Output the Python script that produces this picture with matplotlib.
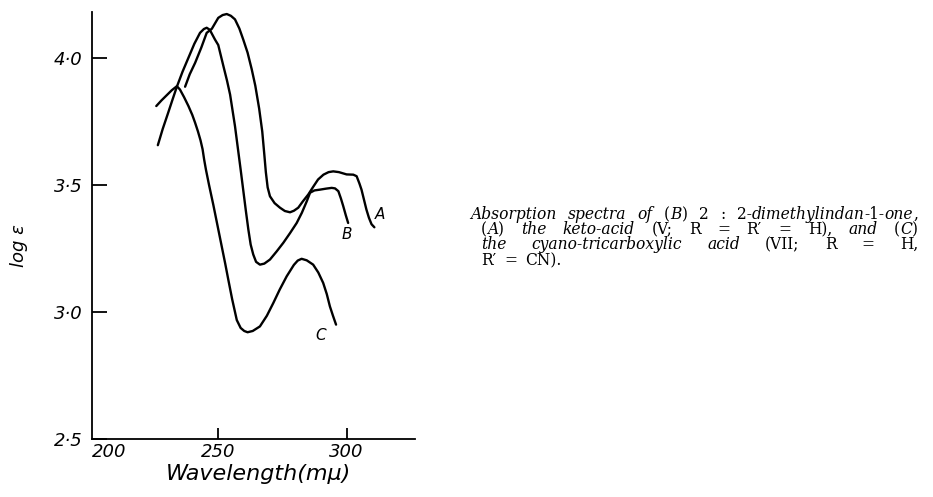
import numpy as np
import matplotlib
matplotlib.use("Agg")
import matplotlib.pyplot as plt

plt.rcParams['font.family'] = 'DejaVu Sans'
plt.rcParams['axes.linewidth'] = 1.3

# curve A: keto-acid
wl_A = [237.2, 239.0, 241.1, 243.5, 245.6, 247.6, 250.1, 251.8, 253.4, 255.0,
        256.6, 258.3, 259.8, 261.5, 263.1, 264.5, 266.0, 267.2, 268.0, 268.6,
        269.3, 270.2, 272.0, 274.1, 276.0, 278.0, 279.5, 281.2, 283.0, 285.1,
        287.0, 288.9, 291.0, 293.0, 294.8, 297.0, 300.0, 302.6, 303.9, 305.0,
        305.8, 306.8, 307.7, 308.7, 309.7, 310.8]
le_A = [3.886, 3.935, 3.98, 4.04, 4.098, 4.114, 4.157, 4.168, 4.172, 4.165,
        4.151, 4.115, 4.072, 4.02, 3.955, 3.89, 3.80, 3.71, 3.62, 3.55,
        3.49, 3.455, 3.428, 3.41, 3.397, 3.392, 3.398, 3.41, 3.435, 3.462,
        3.492, 3.521, 3.540, 3.550, 3.553, 3.550, 3.541, 3.540, 3.534, 3.505,
        3.481, 3.44, 3.403, 3.37, 3.345, 3.333]

# curve B: 2:2-dimethylindan-1-one
wl_B = [226.6, 228.5, 230.5, 232.3, 234.0, 236.2, 238.5, 240.8, 243.0, 244.5,
        245.6, 246.8, 248.8, 250.1, 252.1, 253.5, 254.7, 256.6, 257.9, 258.8,
        259.8, 260.8, 261.8, 262.7, 263.7, 264.8, 266.3, 268.0, 270.2, 272.8,
        275.4, 278.0, 280.6, 282.6, 284.5, 285.8, 287.5, 289.6, 292.0, 294.2,
        295.5, 296.8, 297.8, 298.7, 299.7, 300.6]
le_B = [3.656, 3.72, 3.78, 3.835, 3.886, 3.945, 4.0, 4.055, 4.098, 4.113,
        4.118, 4.11, 4.072, 4.05, 3.967, 3.91, 3.855, 3.731, 3.63, 3.56,
        3.48, 3.40, 3.324, 3.265, 3.226, 3.197, 3.186, 3.19, 3.206, 3.238,
        3.272, 3.31, 3.35, 3.39, 3.435, 3.469, 3.478, 3.481, 3.485, 3.488,
        3.486, 3.475, 3.446, 3.416, 3.38, 3.35]

# curve C: cyano-tricarboxylic acid
wl_C = [226.0, 228.0, 230.0, 232.0, 234.0, 235.2, 236.8, 238.5, 240.0, 241.1,
        242.2, 243.2, 244.0, 244.6, 245.3, 246.5, 248.2, 249.8, 251.4, 252.8,
        254.0, 255.5, 257.3, 258.8, 260.2, 261.5, 263.5, 266.3, 269.0, 271.5,
        274.0, 276.7, 279.5, 281.0, 282.5, 284.5, 287.0, 289.0, 290.9, 292.3,
        293.5, 294.7, 295.9]
le_C = [3.81, 3.832, 3.852, 3.872, 3.888, 3.875, 3.845, 3.81, 3.775, 3.744,
        3.71, 3.675, 3.64, 3.60, 3.56, 3.50, 3.42, 3.34, 3.26, 3.19,
        3.127, 3.05, 2.968, 2.937, 2.925, 2.92, 2.925, 2.943, 2.985, 3.035,
        3.088, 3.14, 3.185, 3.202, 3.209, 3.203, 3.186, 3.155, 3.114, 3.07,
        3.022, 2.985, 2.95]

curve_names = ['A', 'B', 'C']
name_pos = [(313.0, 3.385), (300.0, 3.305), (290.0, 2.906)]

yticks = [2.5, 3.0, 3.5, 4.0]
ytick_labels = ['2·5', '3·0', '3·5', '4·0']
xticks = [250, 300]
xtick_labels = ['250', '300']

fig = plt.figure(figsize=(9.33, 4.97), dpi=100)
ax = fig.add_axes([92/933, 58/497, 323/933, 427/497])

for wl, le in [(wl_A, le_A), (wl_B, le_B), (wl_C, le_C)]:
    ax.plot(wl, le, color='black', lw=1.7, solid_capstyle='round')

for name, (px, py) in zip(curve_names, name_pos):
    ax.text(px, py, name, fontsize=11, fontstyle='italic', ha='center', va='center')

ax.set_xlim(201, 326.6)
ax.set_ylim(2.5, 4.18)
ax.spines['top'].set_visible(False)
ax.spines['right'].set_visible(False)

ax.set_yticks(yticks, ytick_labels)
ax.set_xticks(xticks, xtick_labels)
ax.set_xticks([207.5], ['200'], minor=True)
ax.tick_params(axis='y', direction='in', length=11, width=1.3, pad=7,
               labelsize=13)
ax.tick_params(axis='x', which='major', direction='in', length=8, width=1.3,
               pad=3, labelsize=13)
ax.tick_params(axis='x', which='minor', length=0, pad=3, labelsize=13)
for lab in ax.get_xticklabels(which='both') + ax.get_yticklabels():
    lab.set_fontstyle('italic')

ax.set_xlabel('Wavelength(mμ)', fontsize=16, fontstyle='italic')
ax.xaxis.set_label_coords(0.514, -0.058)
ax.set_ylabel('log ε', fontsize=13, fontstyle='italic')
ax.yaxis.set_label_coords(-0.198, 0.454)

# caption, set as a justified paragraph
cap_font = dict(family='DejaVu Serif', fontsize=11.2)
caption = [
    ([[('Absorption', 1)], [('spectra', 1)], [('of', 1)], [('(', 0), ('B', 1), (')', 0)],
      [('2', 0)], [(':', 0)], [('2-', 0), ('dimethylindan', 1), ('-1-', 0), ('one', 1), (',', 0)]],
     470, 918, 219, True),
    ([[('(', 0), ('A', 1), (')', 0)], [('the', 1)], [('keto-acid', 1)], [('(V;', 0)],
      [('R', 0)], [('=', 0)], [('R′', 0)], [('=', 0)], [('H),', 0)], [('and', 1)],
      [('(', 0), ('C', 1), (')', 0)]],
     481, 918, 234, True),
    ([[('the', 1)], [('cyano-tricarboxylic', 1)], [('acid', 1)], [('(VII;', 0)],
      [('R', 0)], [('=', 0)], [('H,', 0)]],
     481, 918, 249, True),
    ([[('R′', 0)], [('=', 0)], [('CN).', 0)]],
     481, 918, 265, False),
]

renderer = fig.canvas.get_renderer()
W, H = 933.0, 497.0
for words, x0, x1, ybase, justify in caption:
    arts = []
    widths = []
    for word in words:
        pieces = []
        wsum = 0.0
        for s, it in word:
            t = fig.text(0, 0, s, fontstyle='italic' if it else 'normal',
                         va='baseline', ha='left', **cap_font)
            w = t.get_window_extent(renderer).width
            pieces.append((t, w))
            wsum += w
        arts.append(pieces)
        widths.append(wsum)
    if justify:
        gap = (x1 - x0 - sum(widths)) / (len(words) - 1)
    else:
        gap = 8.0
    x = x0
    for pieces, wsum in zip(arts, widths):
        for t, w in pieces:
            t.set_position((x / W, 1 - ybase / H))
            x += w
        x += gap

fig.savefig('out.png', dpi=100)
